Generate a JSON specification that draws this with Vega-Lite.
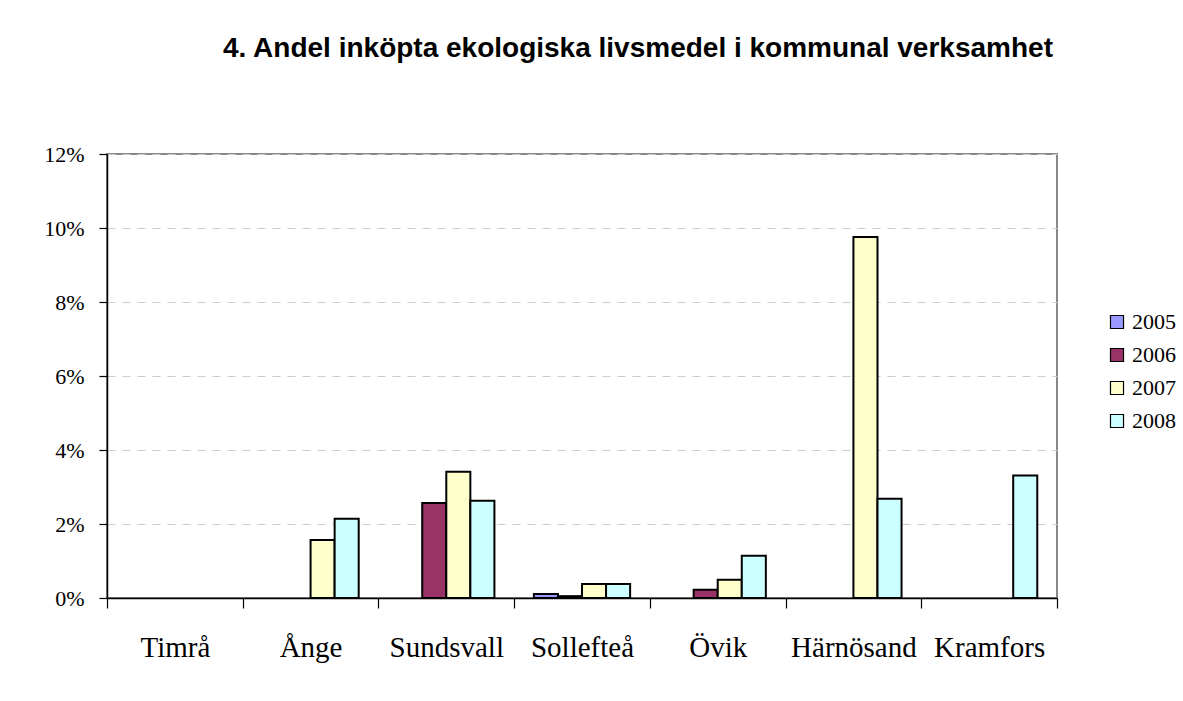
{
  "$schema": "https://vega.github.io/schema/vega-lite/v6.json",
  "width": 950,
  "height": 444,
  "autosize": {"type": "none"},
  "padding": {"left": 107, "top": 154, "right": 126, "bottom": 103},
  "background": "white",
  "title": {
    "text": "4. Andel inköpta ekologiska livsmedel i kommunal verksamhet",
    "font": "Liberation Sans",
    "fontSize": 28,
    "fontWeight": "bold",
    "color": "black",
    "anchor": "middle",
    "dx": 56,
    "offset": 80
  },
  "data": {
    "values": [
      {"kommun": "Ånge", "year": "2007", "andel": 0.0157},
      {"kommun": "Ånge", "year": "2008", "andel": 0.0214},
      {"kommun": "Sundsvall", "year": "2006", "andel": 0.0257},
      {"kommun": "Sundsvall", "year": "2007", "andel": 0.0341},
      {"kommun": "Sundsvall", "year": "2008", "andel": 0.0263},
      {"kommun": "Sollefteå", "year": "2005", "andel": 0.0011},
      {"kommun": "Sollefteå", "year": "2006", "andel": 0.0005},
      {"kommun": "Sollefteå", "year": "2007", "andel": 0.0038},
      {"kommun": "Sollefteå", "year": "2008", "andel": 0.0038},
      {"kommun": "Övik", "year": "2006", "andel": 0.0022},
      {"kommun": "Övik", "year": "2007", "andel": 0.0049},
      {"kommun": "Övik", "year": "2008", "andel": 0.0114},
      {"kommun": "Härnösand", "year": "2007", "andel": 0.0976},
      {"kommun": "Härnösand", "year": "2008", "andel": 0.0268},
      {"kommun": "Kramfors", "year": "2008", "andel": 0.0331}
    ]
  },
  "mark": {"type": "bar", "stroke": "black", "strokeWidth": 2, "opacity": 1},
  "encoding": {
    "x": {
      "field": "kommun",
      "type": "nominal",
      "sort": null,
      "scale": {
        "domain": ["Timrå", "Ånge", "Sundsvall", "Sollefteå", "Övik", "Härnösand", "Kramfors"],
        "paddingInner": 0,
        "paddingOuter": 0
      },
      "axis": {
        "title": null,
        "labelAngle": 0,
        "tickBand": "extent",
        "tickSize": 10,
        "tickColor": "black",
        "tickWidth": 1.2,
        "domainColor": "black",
        "domainWidth": 1.5,
        "labelFont": "Liberation Serif",
        "labelFontSize": 29,
        "labelColor": "black",
        "labelPadding": 25,
        "grid": false
      }
    },
    "xOffset": {
      "field": "year",
      "type": "nominal",
      "scale": {"domain": ["2005", "2006", "2007", "2008"], "paddingInner": 0, "paddingOuter": 0.82}
    },
    "y": {
      "field": "andel",
      "type": "quantitative",
      "scale": {"domain": [0, 0.12], "nice": false},
      "axis": {
        "title": null,
        "values": [0, 0.02, 0.04, 0.06, 0.08, 0.1, 0.12],
        "format": ".0%",
        "tickSize": 8,
        "tickColor": "black",
        "tickWidth": 1.2,
        "domainColor": "black",
        "domainWidth": 1.5,
        "labelFont": "Liberation Serif",
        "labelFontSize": 22,
        "labelColor": "black",
        "labelPadding": 15,
        "grid": true,
        "gridColor": "#cccccc",
        "gridDash": [8, 7],
        "gridWidth": 1
      }
    },
    "color": {
      "field": "year",
      "type": "nominal",
      "scale": {
        "domain": ["2005", "2006", "2007", "2008"],
        "range": ["#9999FF", "#993366", "#FFFFCC", "#CCFFFF"]
      },
      "legend": {
        "title": null,
        "orient": "none",
        "legendX": 999,
        "legendY": 157,
        "symbolType": "square",
        "symbolSize": 170,
        "symbolStrokeColor": "black",
        "symbolStrokeWidth": 1.2,
        "symbolOpacity": 1,
        "labelFont": "Liberation Serif",
        "labelFontSize": 22,
        "labelColor": "black",
        "labelOffset": 4,
        "rowPadding": 11
      }
    }
  },
  "config": {
    "view": {"stroke": "#888888", "strokeWidth": 2}
  }
}
